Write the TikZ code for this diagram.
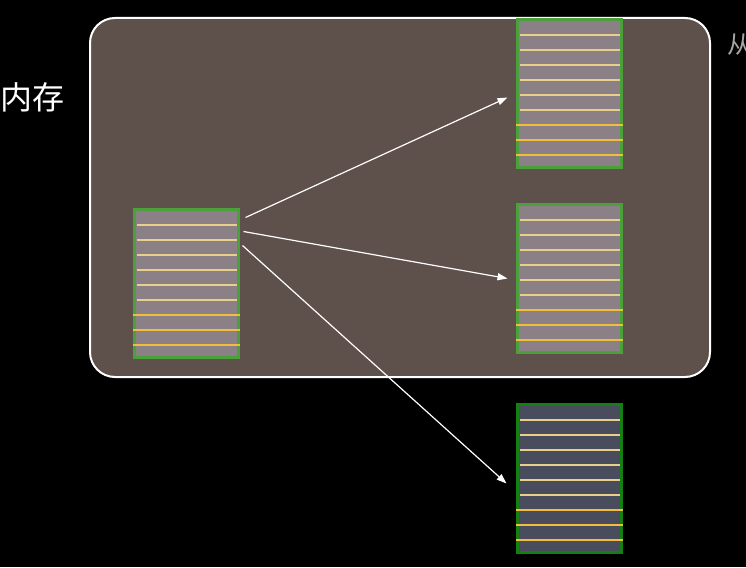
\documentclass[tikz,border=0pt]{standalone}
\usepackage{fontspec}
\newfontfamily\cjk{Noto Sans CJK SC}
\usetikzlibrary{arrows.meta}

\definecolor{memfill}{RGB}{94,80,74}
\definecolor{pagefill}{RGB}{138,128,134}
\definecolor{pageedge}{RGB}{76,160,60}
\definecolor{diskfill}{RGB}{72,76,92}
\definecolor{diskedge}{RGB}{20,128,20}
\definecolor{paleline}{RGB}{232,208,140}
\definecolor{goldline}{RGB}{240,190,60}

\tikzset{
  page/.style={minimum width=104pt, minimum height=148pt, line width=3pt, inner sep=0pt, outer sep=0pt},
  pale/.style={paleline, line width=2pt},
  gold/.style={goldline, line width=2.4pt},
  copyarrow/.style={white, line width=1.2pt, -{Triangle[length=10pt,width=7pt]}}
}

% name, x, y (top left), fill, border
\newcommand{\pageblock}[5]{%
  \node[page, fill=#4, draw=#5, anchor=north west] (#1) at (#2,#3) {};
  \begin{scope}[shift={(#2,#3)}]
    \foreach \i in {0,...,5} \draw[pale] (2,15.5+15*\i) -- (102,15.5+15*\i);
    \foreach \i in {6,7,8} \draw[gold] (-1.5,15.5+15*\i) -- (105.5,15.5+15*\i);
  \end{scope}}

\begin{document}
\begin{tikzpicture}[x=1pt, y=-1pt]
\fill[black] (0,0) rectangle (746,567);
\useasboundingbox (0,0) rectangle (746,567);
\clip (0,0) rectangle (746,567);

% memory area
\draw[white, line width=2pt, fill=memfill, rounded corners=25pt] (90,18) rectangle (710,377);
\node[anchor=west, white, font=\cjk\fontsize{32}{32}\selectfont, inner sep=0pt] (memlabel) at (0,97) {内存};
\node[anchor=west, gray!70, font=\cjk\fontsize{24}{24}\selectfont, inner sep=0pt] (fromlabel) at (727,45) {从};

% pages
\pageblock{src}{134.5}{209.5}{pagefill}{pageedge}
\pageblock{dsttop}{517.5}{19.5}{pagefill}{pageedge}
\pageblock{dstmid}{517.5}{204.5}{pagefill}{pageedge}
\pageblock{dstdisk}{517.5}{404.5}{diskfill}{diskedge}

% copies
\draw[copyarrow] ([shift={(7,8)}]src.north east) -- ([shift={(-10,4)}]dsttop.west);
\draw[copyarrow] ([shift={(5,22)}]src.north east) -- ([xshift=-10pt]dstmid.west);
\draw[copyarrow] ([shift={(4,36)}]src.north east) -- ([shift={(-11,5)}]dstdisk.west);
\end{tikzpicture}
\end{document}
